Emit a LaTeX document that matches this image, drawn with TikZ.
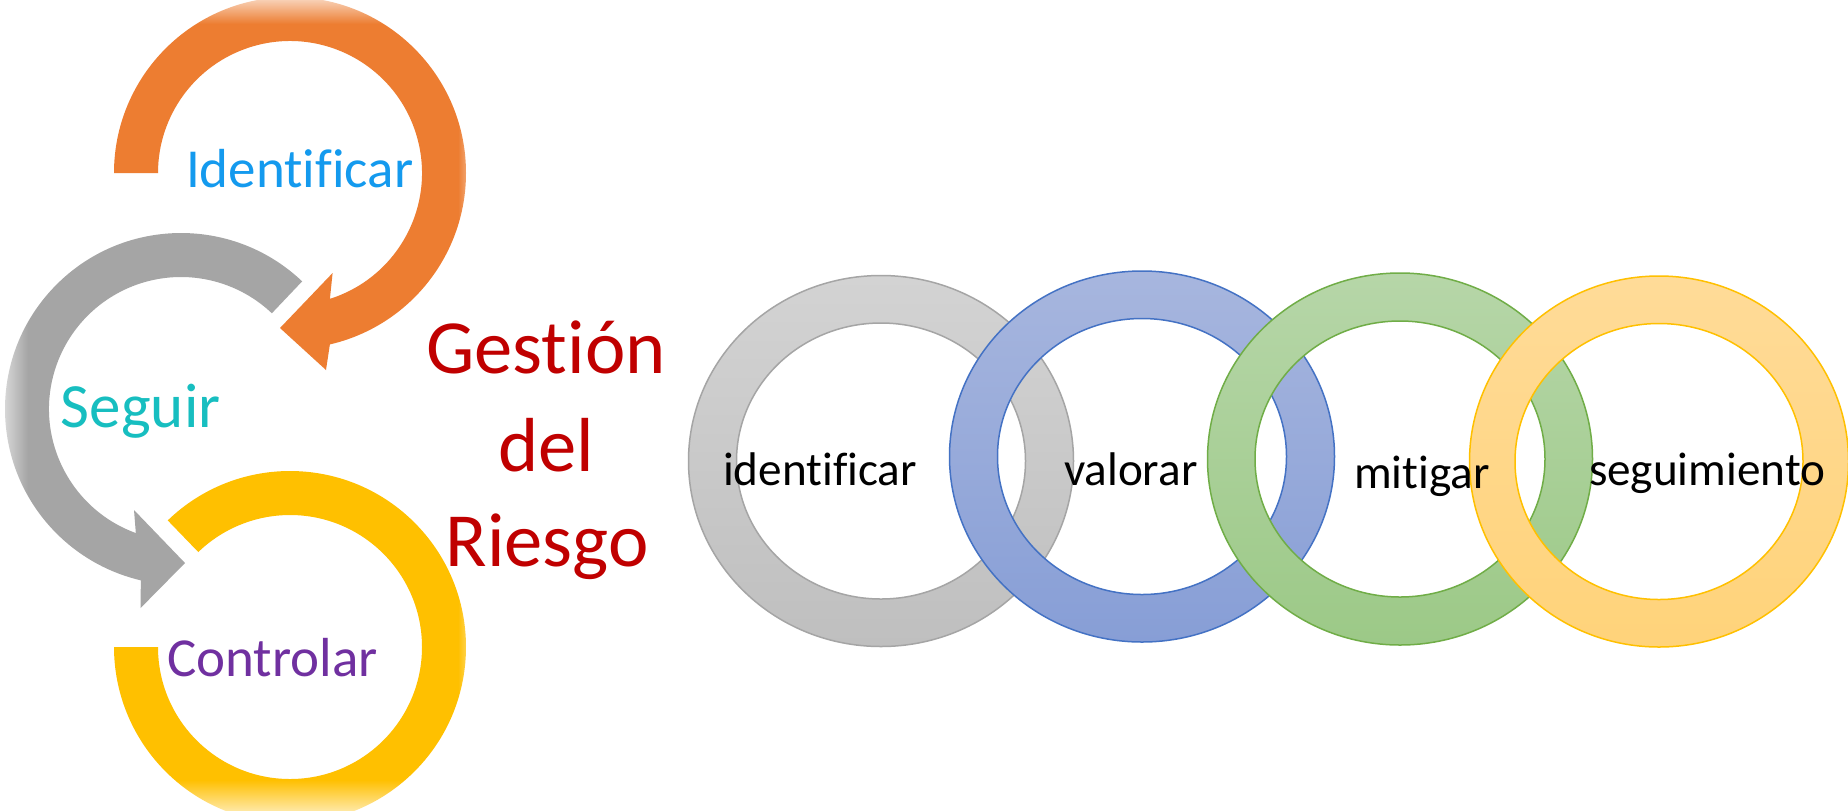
\documentclass[tikz,border=0pt]{standalone}
\usepackage{fontspec}
\setmainfont{Carlito}[Ligatures=NoCommon]
\usetikzlibrary{fadings}
\definecolor{arrOrange}{RGB}{237,125,49}
\definecolor{arrGray}{RGB}{165,165,165}
\definecolor{arrYellow}{RGB}{255,192,0}
\definecolor{txtIdent}{RGB}{20,154,238}
\definecolor{txtSeguir}{RGB}{23,190,192}
\definecolor{txtControl}{RGB}{112,48,160}
\definecolor{txtTitle}{RGB}{192,0,0}
\definecolor{gTop}{RGB}{211,211,211}
\definecolor{gBot}{RGB}{191,191,191}
\definecolor{gLine}{RGB}{165,165,165}
\definecolor{bTop}{RGB}{167,182,222}
\definecolor{bBot}{RGB}{135,158,214}
\definecolor{bLine}{RGB}{68,114,196}
\definecolor{grTop}{RGB}{182,214,168}
\definecolor{grBot}{RGB}{156,201,135}
\definecolor{grLine}{RGB}{112,173,71}
\definecolor{yTop}{RGB}{255,219,152}
\definecolor{yBot}{RGB}{255,211,122}
\definecolor{yLine}{RGB}{255,192,0}
\tikzfading[name=fadeR, left color=transparent!0, right color=transparent!100]
\tikzfading[name=fadeL, left color=transparent!100, right color=transparent!0]
\tikzfading[name=fadeD, top color=transparent!0, bottom color=transparent!100]
\tikzfading[name=fadeU, top color=transparent!100, bottom color=transparent!0]
\tikzset{
  lbl/.style={inner sep=0pt, outer sep=0pt, font=\fontsize{27.5}{33}\selectfont},
  ringlbl/.style={inner sep=0pt, outer sep=0pt, text=black, font=\fontsize{23.6}{28}\selectfont},
  titlelbl/.style={inner sep=0pt, outer sep=0pt, text=txtTitle, font=\fontsize{38.3}{46}\selectfont, anchor=base},
  ring/.style n args={3}{even odd rule, top color=#1, bottom color=#2, draw=#3, line width=0.75pt},
}
\begin{document}
\begin{tikzpicture}[x=0.5pt,y=0.5pt]
\useasboundingbox (0,0) rectangle (1848,-811);
\fill[white] (0,0) rectangle (1848,-811);

% left cycle of arrows
\fill[arrGray] ({181+176*cos(46.5)},{-409+176*sin(46.5)}) arc[start angle=46.5, end angle=256.8, radius=176]
  -- (140.6,-608) -- (185,-563) -- (134,-510)
  -- ({181+132*cos(250)},{-409+132*sin(250)}) arc[start angle=250, end angle=46.5, radius=132] -- cycle;
\fill[arrOrange] (114,-173) arc[start angle=180, end angle=-76.9, radius=176]
  -- (326,-370) -- (280,-328) -- (332.6,-273)
  -- ({290+132*cos(-72.4)},{-173+132*sin(-72.4)}) arc[start angle=-72.4, end angle=180, radius=132] -- cycle;
\fill[arrYellow] ({290+176*cos(134)},{-647+176*sin(134)}) arc[start angle=134, end angle=-180, radius=176]
  -- (158,-647) arc[start angle=-180, end angle=134, radius=132] -- cycle;

% soft edges of the left picture
\fill[white, path fading=fadeR] (-14,0) rectangle (28,-811);
\fill[white, path fading=fadeD] (0,14) rectangle (480,-24);
\fill[white, path fading=fadeU] (0,-780) rectangle (480,-828);
\fill[white] (0,-811) rectangle (480,-840);
\fill[white, path fading=fadeL] (458,0) rectangle (486,-811);

\node[lbl, text=txtIdent, anchor=base west] (identL) at (186,-187) {Identificar};
\node[lbl, text=txtSeguir, anchor=base west, font=\fontsize{31.5}{36}\selectfont] (seguirL) at (61,-427) {Seguir};
\node[lbl, text=txtControl, anchor=base west] (controlL) at (167,-676) {Controlar};

% title
\node[titlelbl] (t1) at (546,-373) {Gestión};
\node[titlelbl] (t2) at (546,-471) {del};
\node[titlelbl] (t3) at (547,-566) {Riesgo};

% rings
\path[ring={gTop}{gBot}{gLine}] (881,-461) ellipse[x radius=192.5, y radius=185.5] (881,-461) ellipse[x radius=144.5, y radius=138];
\path[ring={bTop}{bBot}{bLine}] (1142,-456.5) ellipse[x radius=192.5, y radius=185.5] (1142,-456.5) ellipse[x radius=144.5, y radius=138];
\path[ring={grTop}{grBot}{grLine}] (1400,-459) ellipse[x radius=192.5, y radius=186] (1400,-459) ellipse[x radius=145, y radius=138];
\path[ring={yTop}{yBot}{yLine}] (1659,-461.5) ellipse[x radius=189.5, y radius=185.5] (1659,-461.5) ellipse[x radius=144, y radius=138];

\node[ringlbl, anchor=base west] (r1) at (723,-485) {identificar};
\node[ringlbl, anchor=base west] (r2) at (1064,-485) {valorar};
\node[ringlbl, anchor=base west] (r3) at (1354,-488) {mitigar};
\node[ringlbl, anchor=base west] (r4) at (1589,-485) {seguimiento};
\end{tikzpicture}
\end{document}
